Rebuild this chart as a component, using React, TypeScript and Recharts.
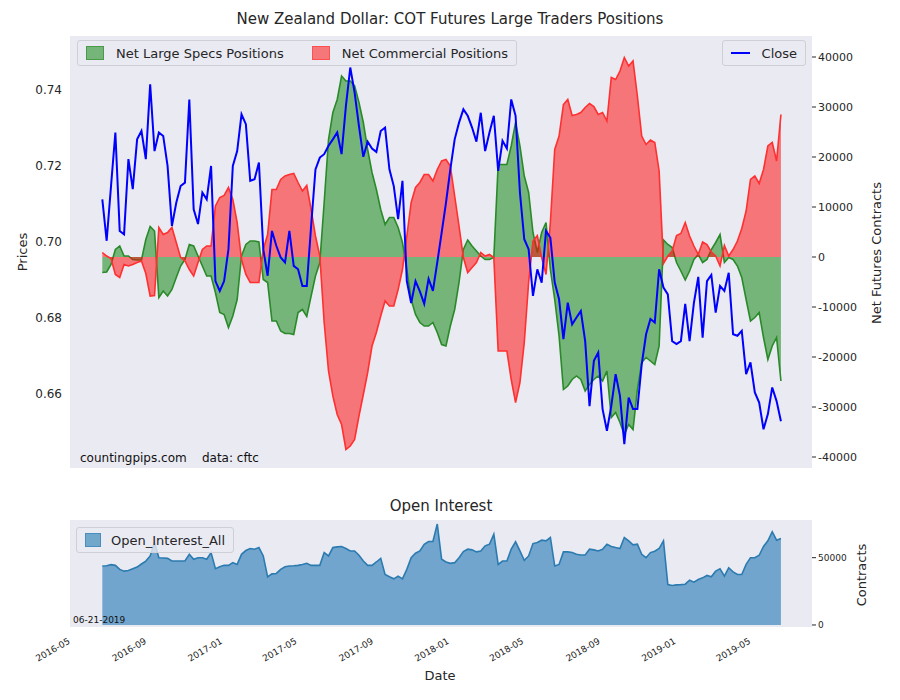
import React from 'react';
import {
  ComposedChart,
  AreaChart,
  Area,
  Line,
  XAxis,
  YAxis,
  CartesianGrid,
} from 'recharts';

// weekly reports, first one 2016-06-21
const firstReport = Date.UTC(2016, 5, 21);
const weekMs = 7 * 24 * 3600 * 1000;

const closePrice = [
  0.7112, 0.7003, 0.7147, 0.7288, 0.7029, 0.702, 0.7218, 0.7139, 0.727, 0.7292,
  0.7218, 0.7415, 0.7239, 0.7288, 0.7279, 0.72, 0.7042, 0.7103, 0.7147, 0.7156,
  0.7375, 0.7086, 0.7047, 0.713, 0.7112, 0.72, 0.6897, 0.6871, 0.6897, 0.6981,
  0.72, 0.7239, 0.7336, 0.731, 0.7161, 0.7165, 0.7209, 0.6981, 0.6911, 0.7029,
  0.699, 0.6959, 0.6946, 0.7029, 0.6937, 0.6928, 0.6884, 0.6884, 0.7042, 0.7191,
  0.7222, 0.7231, 0.7253, 0.727, 0.7288, 0.7231, 0.7358, 0.7459, 0.7393, 0.7305,
  0.7224, 0.7264, 0.7246, 0.7237, 0.7292, 0.7301, 0.7191, 0.7147, 0.706, 0.7161,
  0.6897, 0.6839, 0.6897, 0.687, 0.6837, 0.6903, 0.6871, 0.6946, 0.7024, 0.7103,
  0.7191, 0.727, 0.7314, 0.7349, 0.7332, 0.7301, 0.7264, 0.734, 0.7239, 0.7288,
  0.7332, 0.7187, 0.7266, 0.7246, 0.7375, 0.7332, 0.713, 0.7007, 0.6981, 0.6858,
  0.6928, 0.6893, 0.7029, 0.7011, 0.6893, 0.6849, 0.6744, 0.684, 0.6783, 0.6801,
  0.6818, 0.6739, 0.6568, 0.6687, 0.6709, 0.656, 0.6503, 0.6568, 0.6652, 0.6595,
  0.6468, 0.659, 0.656, 0.656, 0.6678, 0.6757, 0.6797, 0.6788, 0.6928, 0.688,
  0.6862, 0.6739, 0.6731, 0.6739, 0.6837, 0.6739, 0.684, 0.6908, 0.6748, 0.6897,
  0.6913, 0.6814, 0.6884, 0.6871, 0.6919, 0.6757, 0.6753, 0.6766, 0.6652, 0.6683,
  0.6604, 0.6577, 0.6507, 0.6547, 0.6617, 0.6581, 0.6528,
];

// thousands of contracts
const netSpecs = [
  -3.1, -3.0, -1.5, 1.5, 2.2, 0.2, 0.2, -0.5, -0.6, -0.6,
  3.5, 6.1, 5.2, -8.1, -6.8, -7.8, -6.5, -4.1, -1.8, -0.5,
  2.5, 2.2, 0.2, -1.8, -3.8, -3.8, -7.1, -11.1, -11.5, -14.1,
  -11.8, -8.5, 0.2, 2.5, 3.2, 3.2, 3.0, -4.5, -5.1, -12.8,
  -12.8, -14.8, -15.3, -15.3, -15.5, -11.1, -10.5, -11.9, -7.8, -3.8,
  -1.1, 10.9, 23.5, 28.9, 31.5, 36.2, 35.2, 35.2, 34.2, 30.9,
  26.9, 21.5, 16.9, 13.5, 9.5, 6.5, 7.9, 7.9, 5.9, 2.9,
  -2.5, -8.5, -11.5, -13.1, -13.8, -13.8, -13.1, -15.1, -17.5, -17.8,
  -13.8, -10.5, -5.1, 1.5, 3.4, 2.2, 1.2, 0.2, -0.5, -0.5,
  -0.1, 18.5, 18.5, 18.5, 22.2, 26.9, 22.2, 16.2, 12.9, 4.9,
  0.9, 4.9, 6.9, -2.5, -8.5, -15.8, -26.5, -25.8, -24.5, -23.8,
  -24.5, -26.8, -25.5, -24.5, -23.8, -24.8, -22.8, -32.1, -31.1, -33.1,
  -35.5, -33.5, -34.5, -26.5, -21.1, -20.1, -20.8, -21.5, -17.8, 3.4,
  2.5, 1.9, -1.1, -2.8, -4.6, -2.8, -0.5, 0.5, -1.1, -0.5,
  1.5, 2.9, 4.5, -1.1, -0.1, -0.5, -1.8, -4.1, -8.5, -12.8,
  -12.1, -11.1, -16.1, -20.5, -17.8, -16.1, -24.8,
];

const netCommercial = [
  0.9, 0.2, -0.3, -3.5, -4.1, -1.5, -1.8, -1.5, -1.1, -0.8,
  -3.3, -7.8, -7.7, 5.9, 4.5, 4.9, 5.9, 2.9, -0.1, -0.8,
  -2.5, -3.8, -1.1, 1.5, 2.2, 2.2, 10.2, 11.9, 12.3, 13.9,
  11.5, 6.9, -0.5, -3.5, -5.1, -5.1, -5.1, 1.5, 4.5, 13.5,
  13.5, 15.5, 16.2, 16.5, 16.7, 14.9, 13.2, 14.3, 9.5, 4.2,
  0.2, -13.1, -22.8, -27.8, -31.5, -33.5, -38.5, -37.8, -36.5, -31.8,
  -27.5, -23.1, -17.8, -15.1, -11.8, -8.8, -9.8, -9.8, -6.5, -2.5,
  4.2, 10.9, 13.9, 14.9, 16.5, 16.5, 15.2, 17.5, 19.2, 19.5,
  18.2, 12.2, 6.2, -0.1, -3.1, -2.1, -1.1, 0.9, 0.2, 0.5,
  -0.1, -18.8, -18.8, -18.8, -24.5, -29.1, -25.1, -17.1, -5.1, 3.2,
  4.3, -0.1, -3.5, 6.9, 21.5, 24.2, 30.5, 31.5, 28.3, 28.5,
  28.9, 29.9, 30.7, 30.1, 28.5, 28.9, 27.2, 35.9, 35.5, 37.2,
  39.9, 38.2, 39.2, 32.2, 24.2, 22.5, 23.4, 22.9, 17.2, -1.3,
  0.2, 1.2, 4.3, 4.7, 6.9, 4.2, 2.2, 0.5, 3.0, 2.5,
  1.0, 0.2, -1.8, 2.3, 0.2, 1.5, 3.2, 5.7, 9.2, 15.5,
  16.2, 14.7, 17.5, 22.2, 22.9, 19.2, 28.5,
];

const openInterest = [
  43.8, 44.0, 44.8, 44.3, 41.3, 40.0, 40.5, 41.8, 43.0, 45.3,
  47.5, 51.3, 61.3, 50.0, 49.8, 49.5, 47.5, 47.5, 47.5, 47.5,
  52.5, 48.8, 50.0, 50.0, 48.8, 53.8, 41.8, 43.3, 44.3, 44.3,
  46.3, 45.0, 52.5, 55.3, 56.8, 56.3, 57.5, 51.3, 35.8, 38.0,
  38.3, 41.3, 43.3, 43.8, 44.0, 44.3, 45.0, 45.8, 44.3, 44.3,
  44.3, 53.8, 51.3, 57.5, 58.0, 58.3, 56.8, 55.0, 55.0, 51.8,
  47.5, 44.3, 44.3, 46.8, 49.5, 37.5, 35.8, 34.3, 36.3, 34.3,
  41.3, 50.0, 53.3, 55.0, 60.0, 62.0, 62.0, 75.0, 48.8, 46.8,
  45.8, 46.3, 50.0, 54.5, 56.3, 55.8, 54.3, 55.0, 58.8, 60.0,
  67.5, 45.0, 47.5, 47.5, 56.3, 61.8, 55.0, 48.0, 51.3, 60.5,
  61.3, 63.0, 62.5, 65.0, 43.8, 45.0, 54.3, 54.3, 53.8, 52.5,
  52.0, 52.0, 56.3, 55.8, 55.0, 56.3, 60.0, 58.3, 57.5, 56.8,
  65.0, 62.5, 59.5, 60.0, 52.5, 50.0, 53.8, 54.8, 56.8, 62.5,
  30.0, 29.3, 29.8, 30.0, 30.3, 33.3, 31.8, 33.8, 35.0, 36.8,
  35.8, 40.0, 41.8, 36.3, 42.5, 39.5, 37.5, 37.5, 45.0, 50.0,
  50.0, 51.8, 58.3, 62.5, 69.3, 63.0, 64.3,
];

const dateTicks = [
  '2016-05', '2016-09', '2017-01', '2017-05', '2017-09',
  '2018-01', '2018-05', '2018-09', '2019-01', '2019-05',
];
const priceTicks = [0.66, 0.68, 0.7, 0.72, 0.74];
const contractTicks = [-40000, -30000, -20000, -10000, 0, 10000, 20000, 30000, 40000];
const oiTicks = [0, 50000];

const toMs = (s: string) => {
  const [y, m] = s.split('-').map(Number);
  return Date.UTC(y, m - 1, 1);
};
const xTicks = dateTicks.map(toMs);
const xDomain = [Date.UTC(2016, 3, 30), Date.UTC(2019, 7, 7)];

const rows = closePrice.map((p, i) => ({
  t: firstReport + i * weekMs,
  close: p,
  specs: netSpecs[i] * 1000,
  comm: netCommercial[i] * 1000,
  oi: openInterest[i] * 1000,
}));

const fmtMonth = (v: number) => {
  const d = new Date(v);
  return `${d.getUTCFullYear()}-${String(d.getUTCMonth() + 1).padStart(2, '0')}`;
};

const font = 'DejaVu Sans, sans-serif';
const bg = '#EAEAF2';

function DateTick(props: any) {
  const { x, y, payload } = props;
  return (
    <text
      x={x}
      y={y + 8}
      transform={`rotate(-30, ${x}, ${y + 8})`}
      textAnchor="end"
      fontSize={9}
      fill="#262626"
      fontFamily={font}
    >
      {fmtMonth(payload.value)}
    </text>
  );
}

const abs = (style: React.CSSProperties): React.CSSProperties => ({
  position: 'absolute',
  fontFamily: font,
  color: '#262626',
  whiteSpace: 'nowrap',
  ...style,
});

const legendBox: React.CSSProperties = {
  position: 'absolute',
  background: 'rgba(234,234,242,0.8)',
  border: '1px solid #cfcfd6',
  borderRadius: 3,
  fontFamily: font,
  fontSize: 13,
  color: '#262626',
  display: 'flex',
  alignItems: 'center',
  whiteSpace: 'nowrap',
  height: 26,
  boxSizing: 'border-box',
  padding: '0 8px',
};

function VLabel({ x, y, text }: { x: number; y: number; text: string }) {
  return (
    <div style={abs({ left: x, top: y, fontSize: 13, width: 0, height: 0 })}>
      <div style={{ position: 'absolute', transform: 'translate(-50%,-50%) rotate(-90deg)', left: 0, top: 0 }}>
        {text}
      </div>
    </div>
  );
}

export default function App() {
  return (
    <div style={{ position: 'absolute', left: 0, top: 0, width: 900, height: 700, background: '#fff' }}>
      <div style={abs({ left: 0, width: 900, top: 10, textAlign: 'center', fontSize: 15 })}>
        New Zealand Dollar: COT Futures Large Traders Positions
      </div>
      <VLabel x={22} y={252} text="Prices" />

      <div style={{ position: 'absolute', left: 0, top: 0 }}>
        <ComposedChart width={900} height={480} data={rows} margin={{ top: 36, right: 28, bottom: 12, left: 20 }}>
          <rect x={70} y={36} width={742} height={432} fill={bg} />
          <CartesianGrid yAxisId="price" stroke="#fff" strokeWidth={1} horizontal vertical fill="none" />
          <CartesianGrid yAxisId="contracts" stroke="#fff" strokeWidth={1} vertical={false} fill="none" />
          <XAxis
            dataKey="t"
            type="number"
            scale="time"
            domain={xDomain}
            ticks={xTicks}
            interval={0}
            tick={false}
            tickLine={false}
            axisLine={false}
            height={0}
          />
          <YAxis
            yAxisId="price"
            orientation="left"
            width={50}
            domain={[0.6405, 0.7542]}
            ticks={priceTicks}
            tickFormatter={(v: number) => v.toFixed(2)}
            tick={{ fontSize: 12, fill: '#262626', fontFamily: font }}
            tickLine={false}
            axisLine={false}
          />
          <YAxis
            yAxisId="contracts"
            orientation="right"
            width={60}
            domain={[-42200, 44200]}
            ticks={contractTicks}
            tick={{ fontSize: 11, fill: '#262626', fontFamily: font }}
            tickLine={{ stroke: '#262626' }}
            tickSize={4}
            axisLine={false}
          />
          <Line
            yAxisId="price"
            dataKey="close"
            stroke="#0000ff"
            strokeWidth={2}
            dot={false}
            isAnimationActive={false}
          />
          <Area
            yAxisId="contracts"
            dataKey="specs"
            baseValue={0}
            stroke="#2a8a2a"
            strokeWidth={1.6}
            fill="#008000"
            fillOpacity={0.5}
            isAnimationActive={false}
          />
          <Area
            yAxisId="contracts"
            dataKey="comm"
            baseValue={0}
            stroke="#ff3030"
            strokeWidth={1.6}
            fill="#ff0000"
            fillOpacity={0.5}
            isAnimationActive={false}
          />
        </ComposedChart>
      </div>

      <VLabel x={876} y={253} text="Net Futures Contracts" />

      <div style={{ ...legendBox, left: 77, top: 40, width: 440 }}>
        <span style={{ display: 'inline-block', width: 28, height: 12, background: '#75b579', border: '1px solid #4a9a4a', marginRight: 12 }} />
        <span style={{ marginRight: 28 }}>Net Large Specs Positions</span>
        <span style={{ display: 'inline-block', width: 28, height: 12, background: '#f57779', border: '1px solid #ff5050', marginRight: 12 }} />
        <span>Net Commercial Positions</span>
      </div>
      <div style={{ ...legendBox, left: 722, top: 40, width: 84 }}>
        <span style={{ display: 'inline-block', width: 28, height: 2, background: '#0000ff', marginRight: 12 }} />
        <span>Close</span>
      </div>
      <div style={abs({ left: 80, top: 451, fontSize: 12, color: '#111' })}>
        countingpips.com&nbsp;&nbsp;&nbsp;&nbsp;data: cftc
      </div>

      <div style={abs({ left: 0, width: 900, top: 497, textAlign: 'center', fontSize: 15 })}>
        <span style={{ position: 'relative', left: -9 }}>Open Interest</span>
      </div>
      <div style={{ position: 'absolute', left: 0, top: 480 }}>
        <AreaChart width={900} height={220} data={rows} margin={{ top: 40, right: 28, bottom: 23, left: 20 }}>
          <rect x={70} y={40} width={742} height={107} fill={bg} />
          <CartesianGrid stroke="#fff" strokeWidth={1} fill="none" />
          <XAxis
            dataKey="t"
            type="number"
            scale="time"
            domain={xDomain}
            ticks={xTicks}
            interval={0}
            tick={<DateTick />}
            tickLine={false}
            axisLine={false}
            height={50}
          />
          <YAxis yAxisId="left" orientation="left" width={50} tick={false} axisLine={false} tickLine={false} domain={[-1500, 78000]} />
          <YAxis
            orientation="right"
            width={60}
            domain={[-1500, 78000]}
            ticks={oiTicks}
            tick={{ fontSize: 9, fill: '#262626', fontFamily: font }}
            tickLine={{ stroke: '#262626' }}
            tickSize={4}
            axisLine={false}
          />
          <Area
            dataKey="oi"
            baseValue={0}
            stroke="#2b7bb0"
            strokeWidth={1.6}
            fill="#1f77b4"
            fillOpacity={0.6}
            isAnimationActive={false}
          />
        </AreaChart>
      </div>
      <div style={{ ...legendBox, left: 76, top: 527, width: 158 }}>
        <span style={{ display: 'inline-block', width: 28, height: 12, background: '#72a7cc', border: '1px solid #4a8dbd', marginRight: 10 }} />
        <span>Open_Interest_All</span>
      </div>
      <div style={abs({ left: 73, top: 615, fontSize: 9, color: '#111' })}>06-21-2019</div>
      <VLabel x={861} y={575} text="Contracts" />
      <div style={abs({ left: 0, width: 880, top: 668, textAlign: 'center', fontSize: 13 })}>Date</div>
    </div>
  );
}
